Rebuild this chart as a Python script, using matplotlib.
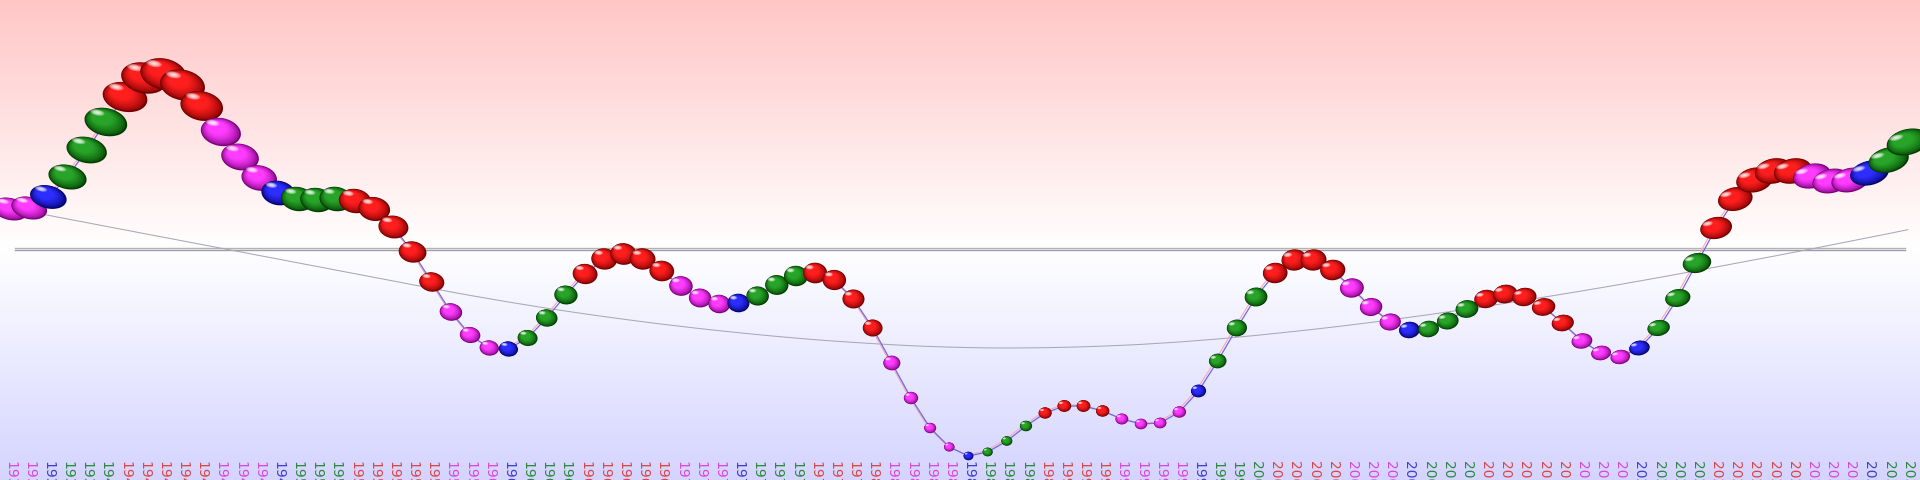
import numpy as np
import matplotlib
matplotlib.use("Agg")
import matplotlib.pyplot as plt
from matplotlib.patches import Ellipse
from matplotlib.transforms import IdentityTransform, ScaledTranslation, blended_transform_factory

# ---------------- data ----------------
years = list(range(1935, 2035))
values = [271, 272, 283, 303, 330, 358, 383, 402, 406, 395, 374, 348, 323, 302, 287, 281, 280, 281, 279, 271,
          253, 228, 198, 168, 145,
          132, 131, 142, 162, 185, 206, 221, 226, 221, 209, 194, 182, 176, 177, 184, 195, 204, 207, 200, 181,
          152, 117, 82, 52, 33,
          24, 28, 39, 54, 67, 74, 74, 69, 61, 56, 57, 68, 89, 119, 152, 183, 207, 220, 220, 210,
          192, 173, 158, 150, 151,
          159, 171, 181, 186, 183, 173, 157, 139, 127, 123, 132, 152, 182, 217, 252, 281, 300, 309, 309, 304,
          299, 300, 307, 320, 338]
# M = falling, B = trough, G = rising, R = peak
phases = (["M"] * 2 + ["B"] + ["G"] * 3 + ["R"] * 5 + ["M"] * 3 + ["B"] + ["G"] * 3 + ["R"] * 5 +
          ["M"] * 3 + ["B"] + ["G"] * 3 + ["R"] * 5 + ["M"] * 3 + ["B"] + ["G"] * 3 + ["R"] * 4 +
          ["M"] * 4 + ["B"] + ["G"] * 3 + ["R"] * 4 + ["M"] * 4 + ["B"] + ["G"] * 3 + ["R"] * 4 +
          ["M"] * 3 + ["B"] + ["G"] * 3 + ["R"] * 5 + ["M"] * 3 + ["B"] + ["G"] * 3 + ["R"] * 5 +
          ["M"] * 3 + ["B"] + ["G"] * 2)
trend = [272.0, 268.3, 264.7, 261.0, 257.4, 253.7, 250.1, 246.4, 242.8, 239.1,
         235.5, 231.8, 228.2, 224.5, 220.9, 217.2, 213.6, 209.9, 206.3, 202.6,
         199.0, 195.3, 191.7, 188.1, 184.6, 181.3, 178.0, 174.9, 171.8, 168.9,
         166.1, 163.4, 160.8, 158.3, 155.9, 153.6, 151.4, 149.3, 147.3, 145.4,
         143.6, 141.9, 140.3, 138.9, 137.6, 136.4, 135.3, 134.3, 133.5, 132.9,
         132.4, 132.1, 132.0, 132.1, 132.3, 132.7, 133.2, 133.9, 134.7, 135.6,
         136.8, 138.0, 139.5, 141.0, 142.8, 144.6, 146.6, 148.6, 150.7, 152.9,
         155.2, 157.6, 160.1, 162.7, 165.3, 168.1, 170.9, 173.8, 176.7, 179.7,
         182.8, 185.9, 189.1, 192.3, 195.6, 199.0, 202.4, 205.9, 209.4, 213.0,
         216.6, 220.2, 223.8, 227.5, 231.2, 235.0, 238.8, 242.6, 246.4, 250.3]
reference_level = 232

# ---------------- style ----------------
ball_colors = {
    "R": ((115, 0, 0), (255, 30, 30)),
    "G": ((0, 60, 0), (40, 165, 40)),
    "B": ((0, 0, 105), (45, 45, 255)),
    "M": ((120, 0, 120), (255, 60, 255)),
}
label_colors = {"R": "#dc4646", "G": "#2a8a3c", "B": "#4040c8", "M": "#dc46dc"}

W, H, DPI = 1920, 480, 100
fig = plt.figure(figsize=(W / DPI, H / DPI), dpi=DPI)

# background gradient
bg = fig.add_axes([0, 0, 1, 1], zorder=0)
bg.axis("off")
ys = np.linspace(0, 1, H)[:, None]
split = 248 / H
top = np.array([255, 198, 198]) / 255
mid = np.ones(3)
bot = np.array([212, 212, 255]) / 255
grad = np.where(ys < split, top + (mid - top) * (ys / split),
                mid + (bot - mid) * ((ys - split) / (1 - split)))
bg.imshow(grad[:, None, :], aspect="auto", extent=[0, 1, 0, 1], interpolation="bilinear")
bg.set_xlim(0, 1)
bg.set_ylim(0, 1)

ax = fig.add_axes([0, 0, 1, 1], zorder=1)
ax.patch.set_alpha(0)
ax.axis("off")
step = 19.17
x0 = -10 / step
ax.set_xlim(x0, x0 + W / step)
ax.set_ylim(0, H)

x = np.arange(len(values))

# reference double line
yt = ax.get_yaxis_transform()
ax.plot([15 / W, 1905 / W], [reference_level, reference_level], transform=yt,
        color="#b4b4a4", lw=1.0, zorder=2)
ax.plot([15 / W, 1905 / W], [reference_level, reference_level],
        transform=yt + ScaledTranslation(0, -2 / DPI, fig.dpi_scale_trans),
        color="#9c9cb6", lw=1.0, zorder=2)

# trend
ax.plot(x, trend, color=(0.66, 0.66, 0.72), lw=0.75, zorder=3)

# connecting lines
ax.plot(x, values, color=(1.0, 0.65, 0.7), lw=0.8, zorder=4,
        transform=ax.transData + ScaledTranslation(-2 / DPI, 1 / DPI, fig.dpi_scale_trans))
ax.plot(x, values, color=(0.42, 0.42, 0.9), lw=0.9, zorder=5)


def rot(px, py, ang):
    a = np.deg2rad(ang)
    return px * np.cos(a) - py * np.sin(a), px * np.sin(a) + py * np.cos(a)


def draw_ball(cx, cy, w, h, ang, dark, bright, z):
    dark = np.array(dark) / 255
    bright = np.array(bright) / 255
    hx, hy = rot(-0.2 * w, 0.22 * h, ang)
    n = 14
    for k in range(n):
        t = k / (n - 1)
        s = 1 - 0.88 * t
        f = min(1.0, (t * 1.7) ** 0.6)
        col = dark + (bright - dark) * f
        e = Ellipse((cx + hx * (1 - s), cy + hy * (1 - s)), w * s, h * s, angle=ang,
                    facecolor=col, edgecolor="none", transform=IdentityTransform(), zorder=z)
        ax.add_patch(e)
    sx, sy = rot(-0.24 * w, 0.27 * h, ang)
    for k in range(6):
        s = 1 - k / 6
        e = Ellipse((cx + sx, cy + sy), 0.34 * w * s, 0.22 * h * s, angle=ang,
                    facecolor="white", edgecolor="none", alpha=0.28,
                    transform=IdentityTransform(), zorder=z)
        ax.add_patch(e)


centers = ax.transData.transform(np.column_stack([x, values]))
for i, ((cx, cy), v, ph) in enumerate(zip(centers, values, phases)):
    D = 9 + (v - 24) * 0.07
    dx = (cx - W / 2) / (W / 2)
    w = D * (1.1 + 0.3 * dx * dx)
    h = D * (0.95 - 0.12 * dx * dx)
    ang = 14 * dx
    dark, bright = ball_colors[ph]
    draw_ball(cx, cy, w, h, ang, dark, bright, 10 + i * 0.01)

# year labels (clipped by the bottom edge, as in the original)
lt = blended_transform_factory(ax.transData, ax.transAxes)
for i, (yr, ph) in enumerate(zip(years, phases)):
    ax.text(i, 1 - 461 / H, str(yr), rotation=-90, ha="center", va="top",
            fontsize=10, color=label_colors[ph], transform=lt, zorder=20)

fig.savefig("out.png", dpi=DPI)
